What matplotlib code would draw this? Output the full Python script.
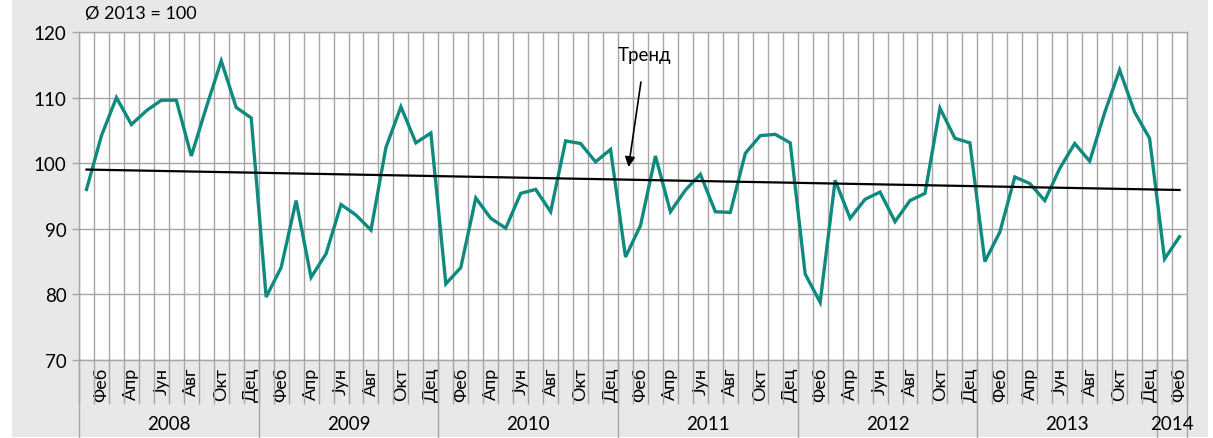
# Index of monthly values, Jan 2008 - Feb 2014, with a linear trend

import numpy as np
import matplotlib
matplotlib.use('Agg')
import matplotlib.pyplot as plt
import matplotlib.transforms as mtransforms
from matplotlib.patches import Rectangle

plt.rcParams['font.family'] = ['Lato', 'DejaVu Sans']

# data (Ø 2013 = 100)
values = [
    96.0, 104.2, 110.0, 105.9, 108.0, 109.6, 109.6, 101.1, 108.5, 115.6, 108.5, 106.9,  # 2008
    79.6, 84.1, 94.3, 82.6, 86.2, 93.7, 92.1, 89.8, 102.4, 108.6, 103.1, 104.6,        # 2009
    81.6, 84.1, 94.7, 91.6, 90.1, 95.4, 96.0, 92.6, 103.4, 103.0, 100.2, 102.1,        # 2010
    85.7, 90.5, 101.1, 92.6, 95.9, 98.3, 92.6, 92.5, 101.5, 104.2, 104.4, 103.1,       # 2011
    83.1, 78.8, 97.4, 91.6, 94.5, 95.6, 91.1, 94.3, 95.4, 108.4, 103.8, 103.1,         # 2012
    85.0, 89.5, 97.9, 96.9, 94.3, 99.2, 103.0, 100.3, 107.7, 114.2, 107.8, 103.8,      # 2013
    85.4, 88.8,                                                                         # 2014
]
years = ['2008', '2009', '2010', '2011', '2012', '2013', '2014']
months_per_year = [12, 12, 12, 12, 12, 12, 2]
month_labels = ['Феб', 'Апр', 'Јун', 'Авг', 'Окт', 'Дец']
base_note = 'Ø 2013 = 100'
trend_label = 'Тренд'

GRID = '#a6a6a6'
TEAL = '#0f8a7e'
BG = '#e8e8e8'

n = len(values)
x = np.arange(n)

fig = plt.figure(figsize=(12.13, 4.39), dpi=100)
fig.patches.append(Rectangle((12 / 1213, 1 / 439), 1196 / 1213, 438 / 439,
                             transform=fig.transFigure, facecolor=BG,
                             edgecolor='none', zorder=-10))
ax = fig.add_axes([79 / 1213, 78 / 439, 1108 / 1213, 328 / 439])
ax.set_facecolor('white')

# series and linear trend
ax.plot(x, values, color=TEAL, lw=2.4, zorder=3, solid_joinstyle='miter')
coef = np.polyfit(x, values, 1)
ax.plot(x, np.polyval(coef, x), color='black', lw=1.6, zorder=4)

ax.set_xlim(-0.5, n - 0.5)
ax.set_ylim(70, 120)
ax.set_yticks(np.arange(70, 121, 10))

# month labels on every second month
month_pos = []
month_txt = []
for i in range(n):
    if i % 2 == 1:
        month_pos.append(i)
        month_txt.append(month_labels[(i % 12) // 2])
ax.set_xticks(month_pos)
ax.set_xticklabels(month_txt, rotation=90, va='top', ha='center', fontsize=13)
ax.set_xticks(np.arange(-0.5, n, 1), minor=True)
ax.tick_params(axis='x', which='major', length=0, pad=5)
ax.tick_params(axis='x', which='minor', length=32, width=1, color=GRID, direction='out')
ax.tick_params(axis='y', length=5, width=1, color=GRID, labelsize=13.5, pad=4)

ax.grid(axis='x', which='minor', color=GRID, lw=1)
ax.grid(axis='y', which='major', color=GRID, lw=1)
ax.set_axisbelow(True)
for s in ax.spines.values():
    s.set_color(GRID)
    s.set_linewidth(1)

# year separators and labels
trans = mtransforms.blended_transform_factory(ax.transData, ax.transAxes)
start = -0.5
for yr, cnt in zip(years, months_per_year):
    ax.plot([start, start], [0, -0.24], color=GRID, lw=1, transform=trans, clip_on=False)
    ax.text(start + cnt / 2, -0.195, yr, transform=trans, ha='center', va='center',
            fontsize=13.5)
    start += cnt
ax.plot([start, start], [0, -0.24], color=GRID, lw=1, transform=trans, clip_on=False)

# trend annotation
ax.annotate(trend_label, xy=(36.2, 99.4), xytext=(37.3, 116.6), ha='center', va='center',
            fontsize=13.5, arrowprops=dict(arrowstyle='-|>', color='black', lw=1.2,
                                           mutation_scale=15, shrinkA=12, shrinkB=0))

fig.text(85 / 1213, 1 - 14 / 439, base_note, ha='left', va='center', fontsize=13)

fig.savefig('out.png', dpi=100, facecolor='white')
